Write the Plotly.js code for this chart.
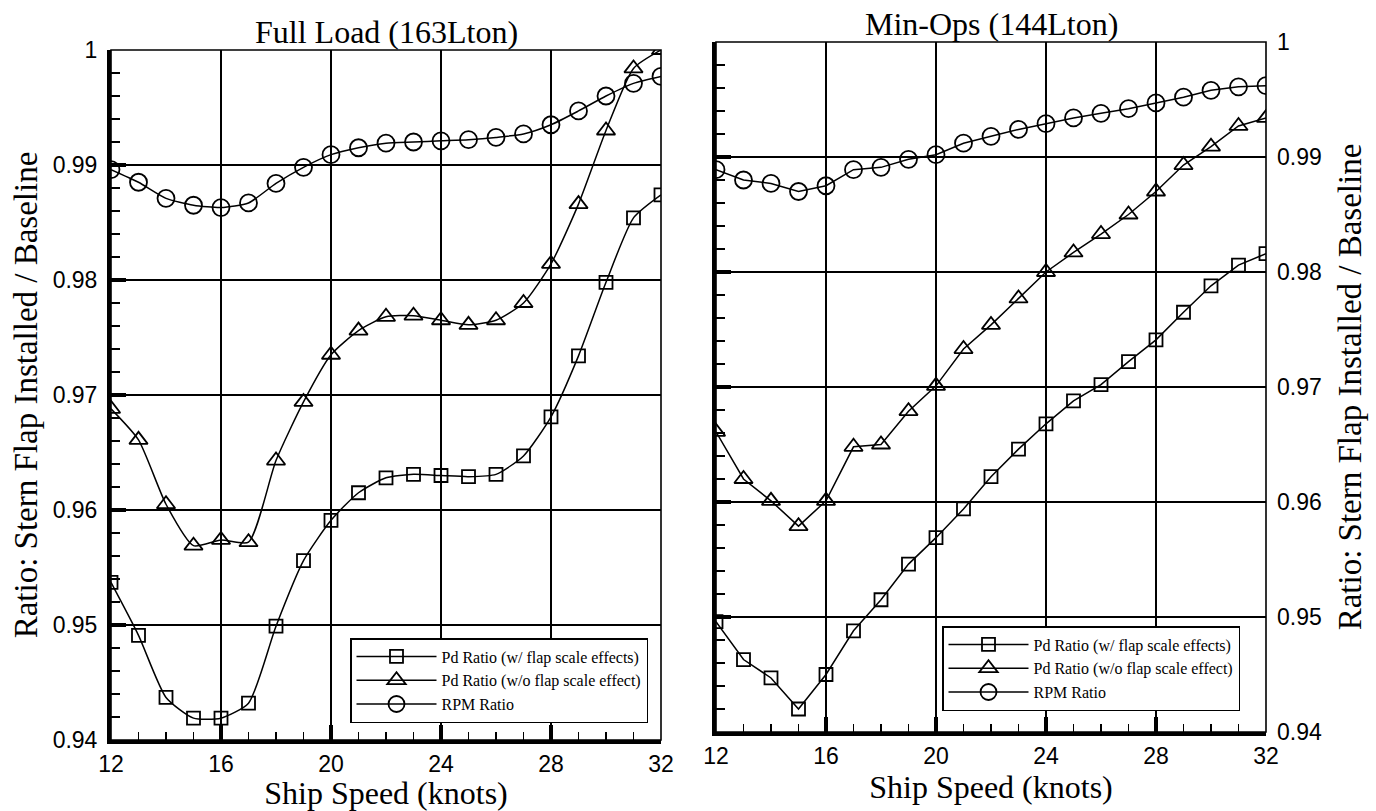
<!DOCTYPE html>
<html><head><meta charset="utf-8">
<script src="https://cdn.plot.ly/plotly-3.0.1.min.js"></script>
<style>html,body{margin:0;padding:0;background:#fff;} #chart{width:1376px;height:811px;}</style>
</head><body><div id="chart"></div>
<script>
// ---- data ----
const speed = [12,13,14,15,16,17,18,19,20,21,22,23,24,25,26,27,28,29,30,31,32];
const fullPdWithScale = [0.9537,0.9491,0.9437,0.9419,0.9419,0.9432,0.9499,0.9556,0.9591,0.9615,0.9628,0.9631,0.9630,0.9629,0.9631,0.9647,0.9681,0.9734,0.9798,0.9854,0.9874];
const fullPdNoScale   = [0.9688,0.9661,0.9605,0.9569,0.9574,0.9572,0.9643,0.9694,0.9735,0.9756,0.9768,0.9769,0.9765,0.9761,0.9765,0.9780,0.9814,0.9866,0.9930,0.9984,1.0000];
const fullRpm         = [0.9896,0.9885,0.9871,0.9865,0.9863,0.9867,0.9884,0.9898,0.9909,0.9915,0.9919,0.9920,0.9921,0.9922,0.9924,0.9927,0.9935,0.9947,0.9960,0.9971,0.9977];
const minPdWithScale  = [0.9496,0.9463,0.9447,0.9420,0.9450,0.9488,0.9515,0.9546,0.9569,0.9594,0.9622,0.9646,0.9668,0.9688,0.9702,0.9722,0.9741,0.9765,0.9788,0.9806,0.9816];
const minPdNoScale    = [0.9661,0.9620,0.9601,0.9579,0.9601,0.9648,0.9650,0.9679,0.9701,0.9733,0.9754,0.9777,0.9800,0.9817,0.9833,0.9850,0.9870,0.9893,0.9909,0.9927,0.9934];
const minRpm          = [0.9889,0.9880,0.9877,0.9870,0.9875,0.9889,0.9891,0.9898,0.9902,0.9912,0.9918,0.9924,0.9929,0.9934,0.9938,0.9942,0.9947,0.9952,0.9958,0.9961,0.9962];
const seriesNames = ['Pd Ratio (w/ flap scale effects)','Pd Ratio (w/o flap scale effect)','RPM Ratio'];
const panelTitles = ['Full Load (163Lton)','Min-Ops (144Lton)'];
const xTitle = 'Ship Speed (knots)';
const yTitle = 'Ratio: Stern Flap Installed / Baseline';
const xTickVals = [12,16,20,24,28,32];
const yTickVals = [0.94,0.95,0.96,0.97,0.98,0.99,1.0];
const yTickText = ['0.94','0.95','0.96','0.97','0.98','0.99','1'];

// ---- styling ----
const SERIF = 'Liberation Serif, Times New Roman, serif';
const SANS = 'Liberation Sans, Arial, sans-serif';
const symbols = ['square-open','triangle-up-open','circle-open'];
const sizes = [13,16,17];

function trace(y, i, xa, ya, leg, shape){
  return {
    x: speed, y: y, name: seriesNames[i], xaxis: xa, yaxis: ya, legend: leg,
    mode: 'lines+markers', hoverinfo: 'skip',
    line: {color: '#000', width: 1.5, shape: shape, smoothing: 0.6},
    marker: {symbol: symbols[i], size: sizes[i], color: '#000', line: {width: 1.8, color: '#000'}}
  };
}
// right panel: y2 carries the inside ticks on the left edge, y3 (same range) carries the labels on the right
const data = [
  trace(fullPdWithScale,0,'x','y','legend','spline'),
  trace(fullPdNoScale,1,'x','y','legend','spline'),
  trace(fullRpm,2,'x','y','legend','spline'),
  trace(minPdWithScale,0,'x2','y2','legend2','linear'),
  trace(minPdNoScale,1,'x2','y2','legend2','linear'),
  trace(minRpm,2,'x2','y3','legend2','linear')
];

function xAxis(domain, anchor){
  return {
    domain: domain, anchor: anchor, range: [12,32], tickmode: 'array', tickvals: xTickVals,
    ticks: 'inside', ticklen: 15, tickwidth: 4, tickcolor: '#000',
    showgrid: true, gridcolor: '#000', gridwidth: 1.6, zeroline: false,
    showline: true, linecolor: '#000', linewidth: 4,
    minor: {dtick: 1, tick0: 12, ticks: 'inside', ticklen: 8, tickwidth: 1.5, tickcolor: '#000', showgrid: false},
    tickfont: {family: SANS, size: 23, color: '#000'},
    title: {text: xTitle, font: {family: SERIF, size: 32, color: '#000'}, standoff: 4},
    automargin: false, fixedrange: true
  };
}
function yAxisBase(domain, anchor){
  return {
    domain: domain, anchor: anchor, range: [0.94,1.0], tickmode: 'array', tickvals: yTickVals, ticktext: yTickText,
    ticks: 'inside', ticklen: 15, tickwidth: 4, tickcolor: '#000',
    showgrid: true, gridcolor: '#000', gridwidth: 1.6, zeroline: false,
    showline: true, linecolor: '#000', linewidth: 4,
    minor: {dtick: 0.002, tick0: 0.94, ticks: 'inside', ticklen: 9, tickwidth: 1.5, tickcolor: '#000', showgrid: false},
    tickfont: {family: SANS, size: 23, color: '#000'},
    automargin: false, fixedrange: true
  };
}
const leftX = [111/1376, 661/1376], leftY = [1-740/811, 1-50/811];
const rightX = [716/1376, 1266/1376], rightY = [1-732/811, 1-42/811];

const yL = yAxisBase(leftY, 'x');
yL.ticklabelstandoff = 5;
yL.title = {text: yTitle, font: {family: SERIF, size: 33, color: '#000'}, standoff: 6};
const yR = yAxisBase(rightY, 'x2');
yR.showticklabels = false;
const yR3 = {
  overlaying: 'y2', anchor: 'x2', side: 'right', range: [0.94,1.0], tickmode: 'array', tickvals: yTickVals, ticktext: yTickText,
  ticks: '', showgrid: false, zeroline: false, showline: false, ticklabelstandoff: 10,
  tickfont: {family: SANS, size: 23, color: '#000'},
  title: {text: yTitle, font: {family: SERIF, size: 33, color: '#000'}, standoff: 16},
  automargin: false, fixedrange: true
};

function frame(xr, yr){
  return {type: 'rect', xref: xr, yref: yr, x0: 0, x1: 1, y0: 0, y1: 1, line: {color: '#000', width: 1.6}, fillcolor: 'rgba(0,0,0,0)', layer: 'above'};
}
function panelTitle(txt, domain, top){
  return {text: txt, xref: 'paper', yref: 'paper', x: (domain[0]+domain[1])/2, y: top, xanchor: 'center', yanchor: 'bottom',
          yshift: -2, showarrow: false, font: {family: SERIF, size: 32, color: '#000'}};
}
const legendStyle = (x, y) => ({
  x: x, y: y, xanchor: 'left', yanchor: 'top', bgcolor: '#fff', bordercolor: '#000', borderwidth: 1.5,
  font: {family: SERIF, size: 16, color: '#000'}, itemwidth: 80, tracegroupgap: 0, itemclick: false, itemdoubleclick: false
});

const layout = {
  width: 1376, height: 811, margin: {l: 0, r: 0, t: 0, b: 0},
  paper_bgcolor: '#fff', plot_bgcolor: '#fff', showlegend: true,
  xaxis: xAxis(leftX, 'y'), yaxis: yL,
  xaxis2: xAxis(rightX, 'y2'), yaxis2: yR, yaxis3: yR3,
  legend: legendStyle(350/1376, 1-638/811),
  legend2: legendStyle(942/1376, 1-626/811),
  shapes: [frame('x domain','y domain'), frame('x2 domain','y2 domain')],
  annotations: [panelTitle(panelTitles[0], leftX, leftY[1]), panelTitle(panelTitles[1], rightX, rightY[1])]
};
Plotly.newPlot('chart', data, layout, {displayModeBar: false, staticPlot: true});
</script></body></html>
